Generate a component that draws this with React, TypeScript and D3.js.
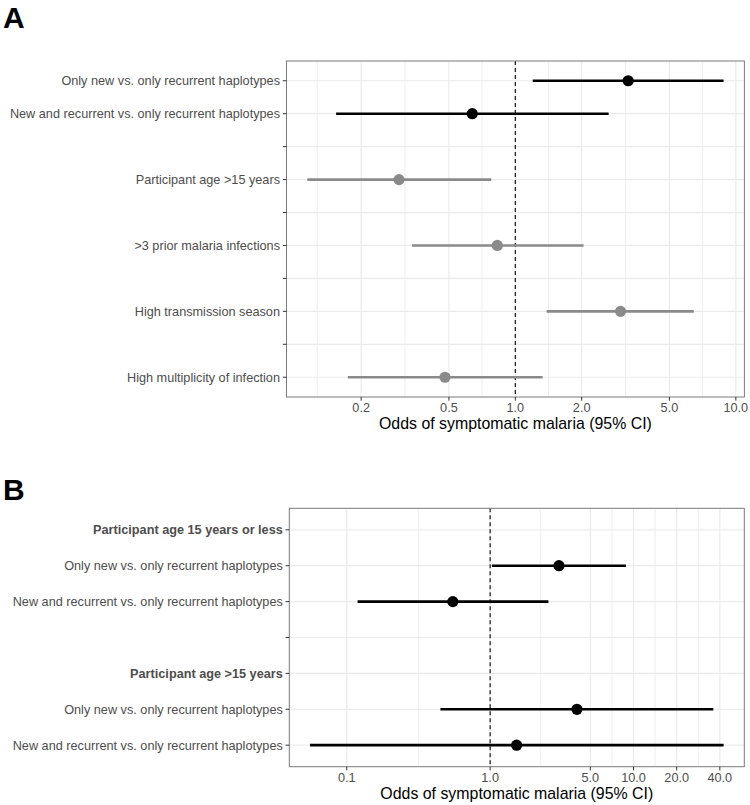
import React from "react";
import * as d3 from "d3";

// ---------- Panel A data ----------
const labelsA = [
  "Only new vs. only recurrent haplotypes",
  "New and recurrent vs. only recurrent haplotypes",
  " ",
  "Participant age >15 years",
  "  ",
  ">3 prior malaria infections",
  "   ",
  "High transmission season",
  "    ",
  "High multiplicity of infection",
];
const estA = [3.25, 0.638, null, 0.297, null, 0.829, null, 3.0, null, 0.48];
const lowA = [1.2, 0.154, null, 0.114, null, 0.34, null, 1.387, null, 0.174];
const highA = [8.8, 2.65, null, 0.778, null, 2.04, null, 6.45, null, 1.33];
const groupA = ["hap", "hap", "", "cov", "", "cov", "", "cov", "", "cov"];
const ticksA = [0.2, 0.5, 1, 2, 5, 10];

// ---------- Panel B data ----------
const labelsB = [
  "Participant age 15 years or less",
  "Only new vs. only recurrent haplotypes",
  "New and recurrent vs. only recurrent haplotypes",
  " ",
  "Participant age >15 years",
  "Only new vs. only recurrent haplotypes ",
  "New and recurrent vs. only recurrent haplotypes ",
];
const boldB = [true, false, false, false, true, false, false];
const estB = [null, 3.02, 0.549, null, null, 4.03, 1.53];
const lowB = [null, 1.03, 0.119, null, null, 0.45, 0.0554];
const highB = [null, 8.85, 2.55, null, null, 36.0, 42.5];
const groupB = ["", "hap", "hap", "", "", "hap", "hap"];
const ticksB = [0.1, 1, 5, 10, 20, 40];

const xTitle = "Odds of symptomatic malaria (95% CI)";

const COLORS: Record<string, string> = { hap: "#000000", cov: "#8a8a8a" };
const FONT = "'Liberation Sans', Arial, Helvetica, sans-serif";

function minorBreaks(ticks: number[], lim: [number, number]) {
  let b = ticks.map((t) => Math.log10(t));
  const bd = b[1] - b[0];
  const l0 = Math.log10(lim[0]);
  const l1 = Math.log10(lim[1]);
  if (l0 < b[0]) b = [b[0] - bd, ...b];
  if (l1 > b[b.length - 1]) b = [...b, b[b.length - 1] + bd];
  const out: number[] = [];
  for (let i = 0; i < b.length - 1; i++) {
    const m = (b[i] + b[i + 1]) / 2;
    if (m > l0 && m < l1) out.push(Math.pow(10, m));
  }
  return out;
}

type PanelProps = {
  letter: string;
  letterY: number;
  labels: string[];
  bold?: boolean[];
  est: (number | null)[];
  low: (number | null)[];
  high: (number | null)[];
  group: string[];
  ticks: number[];
  left: number;
  right: number;
  top: number;
  bottom: number;
  tickBase: number;
  titleBase: number;
};

function Panel(p: PanelProps) {
  const lows = p.low.filter((v) => v != null) as number[];
  const highs = p.high.filter((v) => v != null) as number[];
  const lo = Math.log10(d3.min(lows)!);
  const hi = Math.log10(d3.max(highs)!);
  const pad = (hi - lo) * 0.05;
  const dom: [number, number] = [Math.pow(10, lo - pad), Math.pow(10, hi + pad)];
  const x = d3.scaleLog().domain(dom).range([p.left, p.right]);
  const y = d3
    .scalePoint<string>()
    .domain(p.labels)
    .range([p.top, p.bottom])
    .padding(0.6);
  const minors = minorBreaks(p.ticks, dom);
  const fmt = d3.format(".1f");

  return (
    <g>
      <text
        x={3}
        y={p.letterY}
        fontSize={30}
        fontWeight="bold"
        fontFamily={FONT}
        fill="#000"
      >
        {p.letter}
      </text>
      {/* grid */}
      {minors.map((m, i) => (
        <line
          key={"mi" + i}
          x1={x(m)}
          x2={x(m)}
          y1={p.top}
          y2={p.bottom}
          stroke="#ebebeb"
          strokeWidth={0.8}
        />
      ))}
      {p.ticks.map((t, i) => (
        <line
          key={"ma" + i}
          x1={x(t)}
          x2={x(t)}
          y1={p.top}
          y2={p.bottom}
          stroke="#ebebeb"
          strokeWidth={1.2}
        />
      ))}
      {p.labels.map((l, i) => (
        <line
          key={"hy" + i}
          x1={p.left}
          x2={p.right}
          y1={y(l)!}
          y2={y(l)!}
          stroke="#ebebeb"
          strokeWidth={1.2}
        />
      ))}
      {/* reference line */}
      <line
        x1={x(1)}
        x2={x(1)}
        y1={p.top}
        y2={p.bottom}
        stroke="#000"
        strokeWidth={1.1}
        strokeDasharray="4,3"
      />
      {/* error bars + points */}
      {p.labels.map((l, i) => {
        const e = p.est[i];
        const lo2 = p.low[i];
        const hi2 = p.high[i];
        if (e == null || lo2 == null || hi2 == null) return null;
        const c = COLORS[p.group[i]];
        return (
          <g key={"pt" + i}>
            <line
              x1={x(lo2)}
              x2={x(hi2)}
              y1={y(l)!}
              y2={y(l)!}
              stroke={c}
              strokeWidth={2.6}
            />
            <circle cx={x(e)} cy={y(l)!} r={5.6} fill={c} />
          </g>
        );
      })}
      {/* border */}
      <rect
        x={p.left}
        y={p.top}
        width={p.right - p.left}
        height={p.bottom - p.top}
        fill="none"
        stroke="#7a7a7a"
        strokeWidth={1}
      />
      {/* y axis */}
      {p.labels.map((l, i) => (
        <g key={"yl" + i}>
          <line
            x1={p.left - 3.7}
            x2={p.left}
            y1={y(l)!}
            y2={y(l)!}
            stroke="#333"
            strokeWidth={1}
          />
          <text
            x={p.left - 6.5}
            y={y(l)!}
            dy="0.36em"
            textAnchor="end"
            fontSize={12.7}
            fontFamily={FONT}
            fontWeight={p.bold && p.bold[i] ? "bold" : "normal"}
            fill="#4d4d4d"
          >
            {l.trim()}
          </text>
        </g>
      ))}
      {/* x axis */}
      {p.ticks.map((t, i) => (
        <g key={"xt" + i}>
          <line
            x1={x(t)}
            x2={x(t)}
            y1={p.bottom}
            y2={p.bottom + 3.7}
            stroke="#333"
            strokeWidth={1}
          />
          <text
            x={x(t)}
            y={p.tickBase}
            textAnchor="middle"
            fontSize={12.7}
            fontFamily={FONT}
            fill="#4d4d4d"
          >
            {fmt(t)}
          </text>
        </g>
      ))}
      <text
        x={(p.left + p.right) / 2}
        y={p.titleBase}
        textAnchor="middle"
        fontSize={15.9}
        fontFamily={FONT}
        fill="#000"
      >
        {xTitle}
      </text>
    </g>
  );
}

export default function App() {
  return (
    <svg
      width={750}
      height={805}
      style={{ position: "absolute", left: 0, top: 0, background: "#fff" }}
    >
      <rect x={0} y={0} width={750} height={805} fill="#fff" />
      <Panel
        letter="A"
        letterY={27.5}
        labels={labelsA}
        est={estA}
        low={lowA}
        high={highA}
        group={groupA}
        ticks={ticksA}
        left={286.5}
        right={744.4}
        top={61}
        bottom={397}
        tickBase={411.7}
        titleBase={428.5}
      />
      <Panel
        letter="B"
        letterY={499.5}
        labels={labelsB}
        bold={boldB}
        est={estB}
        low={lowB}
        high={highB}
        group={groupB}
        ticks={ticksB}
        left={289.3}
        right={744.3}
        top={508.3}
        bottom={766.7}
        tickBase={781.7}
        titleBase={799.3}
      />
    </svg>
  );
}
